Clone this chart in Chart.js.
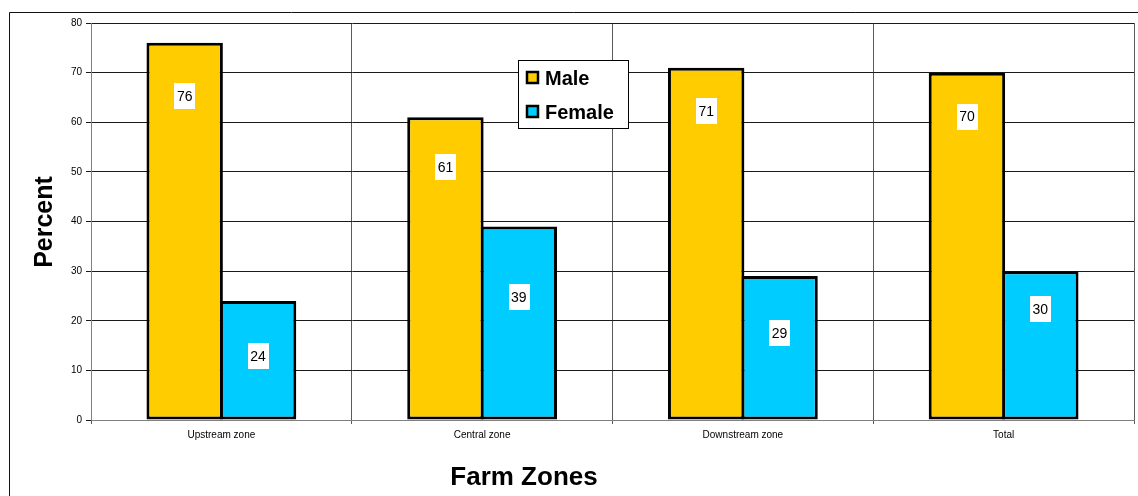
<!DOCTYPE html>
<html>
<head>
<meta charset="utf-8">
<script src="https://cdn.jsdelivr.net/npm/chart.js@4/dist/chart.umd.min.js"></script>
<style>
  html, body { margin: 0; padding: 0; background: #fff; }
  #wrap { width: 1138px; height: 496px; position: relative; }
</style>
</head>
<body>
<div id="wrap"><canvas id="chart" width="1138" height="496"></canvas></div>
<script>
// Share of respondents by sex in each farm zone (percent)
const zones = ['Upstream zone', 'Central zone', 'Downstream zone', 'Total'];
const male = [76, 61, 71, 70];
const female = [24, 39, 29, 30];
const yTicks = [0, 10, 20, 30, 40, 50, 60, 70, 80];

const FONT = "'Liberation Sans', Arial, Helvetica, sans-serif";
const MALE_COLOR = '#FFCC00';
const FEMALE_COLOR = '#00CCFF';

// Frame, axis titles, legend box and value boxes
const decorations = {
  id: 'decorations',
  afterDraw(chart, args, opts) {
    const ctx = chart.ctx;
    ctx.save();

    // outer frame of the figure
    ctx.strokeStyle = '#111';
    ctx.lineWidth = 1;
    ctx.beginPath();
    ctx.moveTo(9.5, 496);
    ctx.lineTo(9.5, 12.5);
    ctx.lineTo(1138, 12.5);
    ctx.stroke();

    // value boxes on the bars
    ctx.font = '14px ' + FONT;
    ctx.textAlign = 'center';
    ctx.textBaseline = 'middle';
    chart.data.datasets.forEach((ds, di) => {
      const meta = chart.getDatasetMeta(di);
      const offs = opts.labelOffsets[di];
      meta.data.forEach((bar, i) => {
        const txt = String(ds.data[i]);
        const w = ctx.measureText(txt).width + 5;
        const h = 26;
        const cx = bar.x;
        const cy = bar.y + offs[i];
        ctx.fillStyle = '#fff';
        ctx.fillRect(Math.round(cx - w / 2), Math.round(cy - h / 2), Math.round(w), h);
        ctx.fillStyle = '#000';
        ctx.fillText(txt, cx, cy + 1);
      });
    });

    // legend
    const lx = 518.5, ly = 60.5, lw = 110, lh = 68;
    ctx.fillStyle = '#fff';
    ctx.fillRect(lx, ly, lw, lh);
    ctx.strokeStyle = '#000';
    ctx.lineWidth = 1;
    ctx.strokeRect(lx, ly, lw, lh);
    const items = [
      { label: chart.data.datasets[0].label, color: MALE_COLOR, y: 78 },
      { label: chart.data.datasets[1].label, color: FEMALE_COLOR, y: 112 }
    ];
    ctx.font = 'bold 20px ' + FONT;
    ctx.textAlign = 'left';
    ctx.textBaseline = 'middle';
    items.forEach(it => {
      ctx.fillStyle = it.color;
      ctx.fillRect(527, it.y - 6, 11, 11);
      ctx.strokeStyle = '#000';
      ctx.lineWidth = 2.5;
      ctx.strokeRect(527, it.y - 6, 11, 11);
      ctx.fillStyle = '#000';
      ctx.fillText(it.label, 545, it.y + 1);
    });

    // axis titles
    ctx.fillStyle = '#000';
    ctx.font = 'bold 25px ' + FONT;
    ctx.textAlign = 'center';
    ctx.textBaseline = 'middle';
    ctx.save();
    ctx.translate(45, 222);
    ctx.rotate(-Math.PI / 2);
    ctx.fillText('Percent', 0, 0);
    ctx.restore();

    ctx.font = 'bold 26px ' + FONT;
    ctx.fillText('Farm Zones', 524, 478);

    ctx.restore();
  }
};

// bars in a pair overlap by one border width so the shared edge is a single line
const CAT_PCT = 0.563;
const BAR_PCT = 1.041;

new Chart(document.getElementById('chart'), {
  type: 'bar',
  data: {
    labels: zones,
    datasets: [
      {
        label: 'Male',
        data: male,
        backgroundColor: MALE_COLOR,
        borderColor: '#000',
        borderWidth: 3,
        borderSkipped: false,
        categoryPercentage: CAT_PCT,
        barPercentage: BAR_PCT
      },
      {
        label: 'Female',
        data: female,
        backgroundColor: FEMALE_COLOR,
        borderColor: '#000',
        borderWidth: 3,
        borderSkipped: false,
        categoryPercentage: CAT_PCT,
        barPercentage: BAR_PCT
      }
    ]
  },
  options: {
    responsive: false,
    animation: false,
    devicePixelRatio: 1,
    layout: { padding: { top: 23, right: 4, left: 0, bottom: 0 } },
    plugins: {
      legend: { display: false },
      tooltip: { enabled: false },
      decorations: {
        labelOffsets: [
          [53, 50, 43, 44],
          [55, 71, 57, 38]
        ]
      }
    },
    scales: {
      x: {
        offset: true,
        grid: {
          offset: true,
          color: '#5a5a5a',
          lineWidth: 1,
          tickLength: 4,
          drawOnChartArea: true
        },
        border: { color: '#808080', width: 1 },
        ticks: {
          color: '#000',
          font: { family: FONT, size: 10 },
          padding: 5
        },
        afterFit(scale) { scale.height = 76; }
      },
      y: {
        min: 0,
        max: 80,
        afterBuildTicks(scale) {
          scale.ticks = yTicks.map(v => ({ value: v }));
        },
        grid: {
          color: '#1a1a1a',
          lineWidth: 1,
          tickLength: 5
        },
        border: { color: '#808080', width: 1 },
        ticks: {
          color: '#000',
          font: { family: FONT, size: 10 },
          padding: 4
        },
        afterFit(scale) { scale.width = 91; }
      }
    }
  },
  plugins: [decorations]
});
</script>
</body>
</html>
